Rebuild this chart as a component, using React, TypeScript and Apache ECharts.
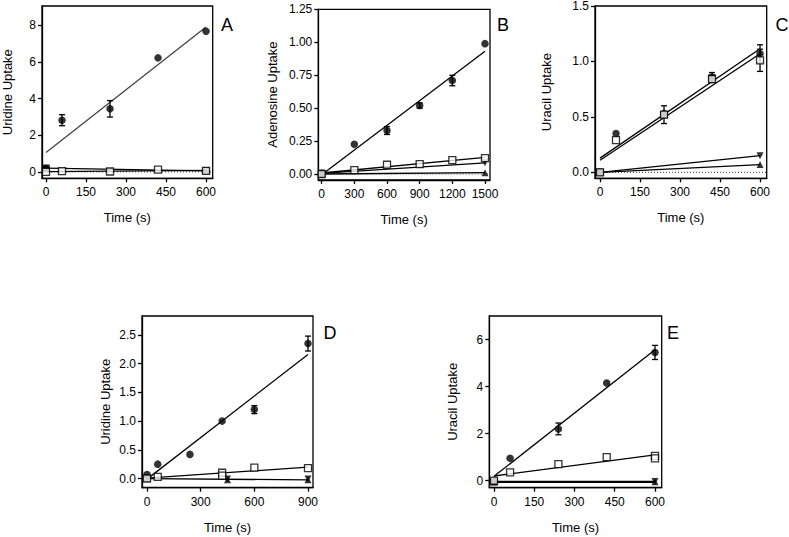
import React, { useEffect, useRef } from "react";
import * as echarts from "echarts";

// ---------- Panel A : Uridine uptake ----------
const A_time = [0, 60, 240, 420, 600];
const A_circle = [0.18, 2.82, 3.44, 6.22, 7.67];
const A_circleErr = [0, 0.3, 0.45, 0, 0];
const A_openSq = [0.0, 0.04, 0.02, 0.12, 0.05];
const A_fillSqTime = [0, 600];
const A_fillSq = [0.2, 0.06];
const A_xTicks = [0, 150, 300, 450, 600];
const A_yTicks = [0, 2, 4, 6, 8];

// ---------- Panel B : Adenosine uptake ----------
const B_time = [0, 300, 600, 900, 1200, 1500];
const B_circle = [0.005, 0.225, 0.33, 0.52, 0.71, 0.99];
const B_circleErr = [0, 0, 0.03, 0.02, 0.04, 0];
const B_openSq = [0.0, 0.03, 0.07, 0.075, 0.105, 0.12];
const B_triTime = [0, 1500];
const B_downTri = [0.005, 0.085];
const B_upTri = [0.0, 0.01];
const B_fillSqTime = [0];
const B_fillSq = [0.0];
const B_xTicks = [0, 300, 600, 900, 1200, 1500];
const B_yTicks = [0, 0.25, 0.5, 0.75, 1.0, 1.25];

// ---------- Panel C : Uracil uptake ----------
const C_time = [0, 60, 240, 420, 600];
const C_circle = [0.0, 0.35, 0.53, 0.86, 1.07];
const C_circleErr = [0, 0, 0, 0.04, 0.08];
const C_openSq = [0.0, 0.29, 0.52, 0.84, 1.01];
const C_openSqErr = [0, 0, 0.08, 0.03, 0.1];
const C_fillSqTime = [0, 240, 420];
const C_fillSq = [0.0, 0.52, 0.85];
const C_triTime = [0, 600];
const C_downTri = [0.0, 0.15];
const C_upTri = [0.0, 0.07];
const C_xTicks = [0, 150, 300, 450, 600];
const C_yTicks = [0, 0.5, 1.0, 1.5];

// ---------- Panel D : Uridine uptake ----------
const D_time = [0, 60, 240, 420, 600, 900];
const D_circle = [0.07, 0.25, 0.42, 1.0, 1.2, 2.35];
const D_circleErr = [0, 0, 0, 0, 0.07, 0.13];
const D_openSqTime = [0, 60, 420, 420, 600, 900];
const D_openSq = [0.0, 0.03, 0.1, 0.05, 0.19, 0.18];
const D_triTime = [0, 450, 900];
const D_upTri = [0.0, -0.02, -0.02];
const D_downTri = [0.0, -0.01, -0.01];
const D_xTicks = [0, 300, 600, 900];
const D_yTicks = [0, 0.5, 1.0, 1.5, 2.0, 2.5];

// ---------- Panel E : Uracil uptake ----------
const E_time = [0, 60, 240, 420, 600];
const E_circle = [0.0, 0.95, 2.2, 4.15, 5.45];
const E_circleErr = [0, 0, 0.25, 0, 0.3];
const E_openSqTime = [0, 60, 240, 420, 600, 600];
const E_openSq = [0.0, 0.35, 0.7, 1.0, 1.05, 0.95];
const E_triTime = [0, 600];
const E_upTri = [-0.05, -0.05];
const E_downTri = [-0.04, -0.04];
const E_fillSqTime = [0];
const E_fillSq = [-0.05];
const E_xTicks = [0, 150, 300, 450, 600];
const E_yTicks = [0, 2, 4, 6];

const FONT = "'Liberation Sans', Arial, Helvetica, sans-serif";
const LW = 1.3;

function linReg(xs: number[], ys: number[]) {
  const n = xs.length;
  const mx = xs.reduce((a, b) => a + b, 0) / n;
  const my = ys.reduce((a, b) => a + b, 0) / n;
  let sxy = 0, sxx = 0;
  for (let i = 0; i < n; i++) {
    sxy += (xs[i] - mx) * (ys[i] - my);
    sxx += (xs[i] - mx) * (xs[i] - mx);
  }
  const b = sxx === 0 ? 0 : sxy / sxx;
  return { a: my - b * mx, b };
}

type Kind = "circle" | "osq" | "fsq" | "tri" | "dtri";

function markerSeries(gi: number, xs: number[], ys: number[], kind: Kind) {
  const base: any = {
    type: "scatter",
    xAxisIndex: gi,
    yAxisIndex: gi,
    data: xs.map((x, i) => [x, ys[i]]),
    silent: true,
    z: 5,
  };
  if (kind === "circle") {
    base.symbol = "circle";
    base.symbolSize = 7.5;
    base.itemStyle = { color: "#000" };
  } else if (kind === "osq") {
    base.symbol = "rect";
    base.symbolSize = 7;
    base.itemStyle = { color: "#fff", borderColor: "#000", borderWidth: LW };
    base.z = 6;
  } else if (kind === "fsq") {
    base.symbol = "rect";
    base.symbolSize = 7.5;
    base.itemStyle = { color: "#000" };
  } else if (kind === "tri") {
    base.symbol = "triangle";
    base.symbolSize = 7;
    base.itemStyle = { color: "#000" };
  } else {
    base.symbol = "triangle";
    base.symbolSize = 7;
    base.symbolRotate = 180;
    base.itemStyle = { color: "#000" };
  }
  return base;
}

function fitSeries(gi: number, xs: number[], ys: number[], x0: number, x1: number, color = "#000") {
  const { a, b } = linReg(xs, ys);
  return {
    type: "line",
    xAxisIndex: gi,
    yAxisIndex: gi,
    data: [
      [x0, a + b * x0],
      [x1, a + b * x1],
    ],
    symbol: "none",
    silent: true,
    lineStyle: { color, width: LW },
    z: 3,
  };
}

function baseline(gi: number, x0: number, x1: number) {
  return {
    type: "line",
    xAxisIndex: gi,
    yAxisIndex: gi,
    data: [
      [x0, 0],
      [x1, 0],
    ],
    symbol: "none",
    silent: true,
    lineStyle: { color: "#333", width: 1, type: [1, 2] },
    z: 2,
  };
}

function errSeries(gi: number, xs: number[], ys: number[], errs: number[]) {
  const data: number[][] = [];
  xs.forEach((x, i) => {
    if (errs[i] > 0) data.push([x, ys[i] - errs[i], ys[i] + errs[i]]);
  });
  return {
    type: "custom",
    xAxisIndex: gi,
    yAxisIndex: gi,
    silent: true,
    z: 4,
    encode: { x: 0, y: [1, 2] },
    data,
    renderItem: (_p: any, api: any) => {
      const x = api.value(0);
      const lo = api.coord([x, api.value(1)]);
      const hi = api.coord([x, api.value(2)]);
      const w = 3;
      const st = { stroke: "#000", lineWidth: LW };
      return {
        type: "group",
        children: [
          { type: "line", shape: { x1: lo[0], y1: lo[1], x2: hi[0], y2: hi[1] }, style: st },
          { type: "line", shape: { x1: lo[0] - w, y1: lo[1], x2: lo[0] + w, y2: lo[1] }, style: st },
          { type: "line", shape: { x1: hi[0] - w, y1: hi[1], x2: hi[0] + w, y2: hi[1] }, style: st },
        ],
      };
    },
  };
}

function xAxis(gi: number, min: number, max: number, ticks: number[]) {
  return {
    type: "value",
    gridIndex: gi,
    min,
    max,
    position: "bottom",
    axisLine: { show: true, onZero: false, lineStyle: { color: "#000", width: LW } },
    axisTick: { show: true, length: 4, inside: false, customValues: ticks, lineStyle: { color: "#000", width: LW } },
    axisLabel: {
      customValues: ticks,
      color: "#000",
      fontSize: 12,
      fontFamily: FONT,
      margin: 8,
      formatter: (v: number) => String(v),
    },
    splitLine: { show: false },
    name: "Time (s)",
    nameLocation: "middle",
    nameGap: 33,
    nameTextStyle: { color: "#000", fontSize: 13, fontFamily: FONT },
  };
}

function yAxis(gi: number, min: number, max: number, ticks: number[], dec: number, name: string, gap: number) {
  return {
    type: "value",
    gridIndex: gi,
    min,
    max,
    position: "left",
    axisLine: { show: true, onZero: false, lineStyle: { color: "#000", width: LW } },
    axisTick: { show: true, length: 4, inside: false, customValues: ticks, lineStyle: { color: "#000", width: LW } },
    axisLabel: {
      customValues: ticks,
      color: "#000",
      fontSize: 12,
      fontFamily: FONT,
      margin: 6,
      formatter: (v: number) => v.toFixed(dec),
    },
    splitLine: { show: false },
    name,
    nameLocation: "middle",
    nameRotate: 90,
    nameGap: gap,
    nameTextStyle: { color: "#000", fontSize: 13, fontFamily: FONT },
  };
}

const grids = [
  { left: 41.7, top: 6, width: 171, height: 172.3 },
  { left: 318.3, top: 9.4, width: 171.7, height: 170.5 },
  { left: 595, top: 6, width: 171.7, height: 172.3 },
  { left: 142, top: 316, width: 171, height: 171.7 },
  { left: 489.3, top: 316, width: 172.4, height: 171.7 },
].map((g) => ({ ...g, show: true, borderColor: "#000", borderWidth: LW, backgroundColor: "transparent", containLabel: false }));

const xr = [
  [-15, 625],
  [-31, 1546],
  [-18.75, 625],
  [-28, 928],
  [-17.5, 625],
];

function buildOption() {
  const series: any[] = [];
  series.push(baseline(0, xr[0][0], xr[0][1]));
  series.push(baseline(1, 0, xr[1][1]));
  series.push(baseline(2, 0, xr[2][1]));

  // A
  series.push(fitSeries(0, A_time, A_circle, 0, 600, "#444"));
  series.push(fitSeries(0, A_time, A_openSq, 0, 600));
  series.push(fitSeries(0, A_fillSqTime, A_fillSq, 0, 600));
  series.push(errSeries(0, A_time, A_circle, A_circleErr));
  series.push(markerSeries(0, A_time, A_openSq, "osq"));
  series.push(markerSeries(0, A_fillSqTime, A_fillSq, "fsq"));
  series.push(markerSeries(0, A_time, A_circle, "circle"));

  // B
  series.push(fitSeries(1, B_time, B_circle, 0, 1500));
  series.push(fitSeries(1, B_time, B_openSq, 0, 1500));
  series.push(fitSeries(1, B_triTime, B_downTri, 0, 1500));
  series.push(fitSeries(1, B_triTime, B_upTri, 0, 1500));
  series.push(errSeries(1, B_time, B_circle, B_circleErr));
  series.push(markerSeries(1, B_triTime, B_downTri, "dtri"));
  series.push(markerSeries(1, B_triTime, B_upTri, "tri"));
  series.push(markerSeries(1, B_time, B_openSq, "osq"));
  series.push(markerSeries(1, B_fillSqTime, B_fillSq, "fsq"));
  series.push(markerSeries(1, B_time, B_circle, "circle"));

  // C
  series.push(fitSeries(2, C_time, C_circle, 0, 600));
  series.push(fitSeries(2, C_time, C_openSq, 0, 600));
  series.push(fitSeries(2, C_triTime, C_downTri, 0, 600));
  series.push(fitSeries(2, C_triTime, C_upTri, 0, 600));
  series.push(errSeries(2, C_time, C_circle, C_circleErr));
  series.push(errSeries(2, C_time, C_openSq, C_openSqErr));
  series.push(markerSeries(2, C_triTime, C_downTri, "dtri"));
  series.push(markerSeries(2, C_triTime, C_upTri, "tri"));
  series.push(markerSeries(2, C_fillSqTime, C_fillSq, "fsq"));
  series.push(markerSeries(2, C_time, C_circle, "circle"));
  series.push(markerSeries(2, C_time, C_openSq, "osq"));

  // D
  series.push(fitSeries(3, D_time, D_circle, 0, 900));
  series.push(fitSeries(3, D_openSqTime, D_openSq, 0, 900));
  series.push(fitSeries(3, D_triTime, D_upTri, 0, 900));
  series.push(errSeries(3, D_time, D_circle, D_circleErr));
  series.push(markerSeries(3, D_triTime, D_upTri, "tri"));
  series.push(markerSeries(3, D_triTime, D_downTri, "dtri"));
  series.push(markerSeries(3, D_openSqTime, D_openSq, "osq"));
  series.push(markerSeries(3, D_time, D_circle, "circle"));

  // E
  series.push(fitSeries(4, E_time, E_circle, 0, 600));
  series.push(fitSeries(4, E_openSqTime, E_openSq, 0, 600));
  series.push({ ...fitSeries(4, E_triTime, E_upTri, 0, 600), lineStyle: { color: "#000", width: 2.2 } });
  series.push(errSeries(4, E_time, E_circle, E_circleErr));
  series.push(markerSeries(4, E_triTime, E_upTri, "tri"));
  series.push(markerSeries(4, E_triTime, E_downTri, "dtri"));
  series.push(markerSeries(4, E_fillSqTime, E_fillSq, "fsq"));
  series.push(markerSeries(4, E_openSqTime, E_openSq, "osq"));
  series.push(markerSeries(4, E_time, E_circle, "circle"));

  const letter = (t: string, x: number, y: number) => ({
    type: "text",
    x,
    y,
    style: { text: t, fontSize: 18, fontFamily: FONT, fill: "#000", align: "center", verticalAlign: "middle" },
  });

  return {
    animation: false,
    backgroundColor: "#fff",
    grid: grids,
    xAxis: [
      xAxis(0, xr[0][0], xr[0][1], A_xTicks),
      xAxis(1, xr[1][0], xr[1][1], B_xTicks),
      xAxis(2, xr[2][0], xr[2][1], C_xTicks),
      xAxis(3, xr[3][0], xr[3][1], D_xTicks),
      xAxis(4, xr[4][0], xr[4][1], E_xTicks),
    ],
    yAxis: [
      yAxis(0, -0.35, 9.05, A_yTicks, 0, "Uridine Uptake", 28),
      yAxis(1, -0.045, 1.25, B_yTicks, 2, "Adenosine Uptake", 39),
      yAxis(2, -0.054, 1.5, C_yTicks, 1, "Uracil Uptake", 42),
      yAxis(3, -0.16, 2.83, D_yTicks, 1, "Uridine Uptake", 30),
      yAxis(4, -0.3, 7.0, E_yTicks, 0, "Uracil Uptake", 30),
    ],
    graphic: [
      letter("A", 227, 25),
      letter("B", 503, 25),
      letter("C", 782, 25),
      letter("D", 330, 333),
      letter("E", 673, 333),
    ],
    series,
  };
}

export default function App() {
  const ref = useRef<HTMLDivElement>(null);
  useEffect(() => {
    if (!ref.current) return;
    const chart = echarts.init(ref.current, undefined, { renderer: "svg" });
    chart.setOption(buildOption() as any);
    return () => chart.dispose();
  }, []);
  return (
    <div
      ref={ref}
      style={{ position: "fixed", left: 0, top: 0, width: 789, height: 537, background: "#fff" }}
    />
  );
}
